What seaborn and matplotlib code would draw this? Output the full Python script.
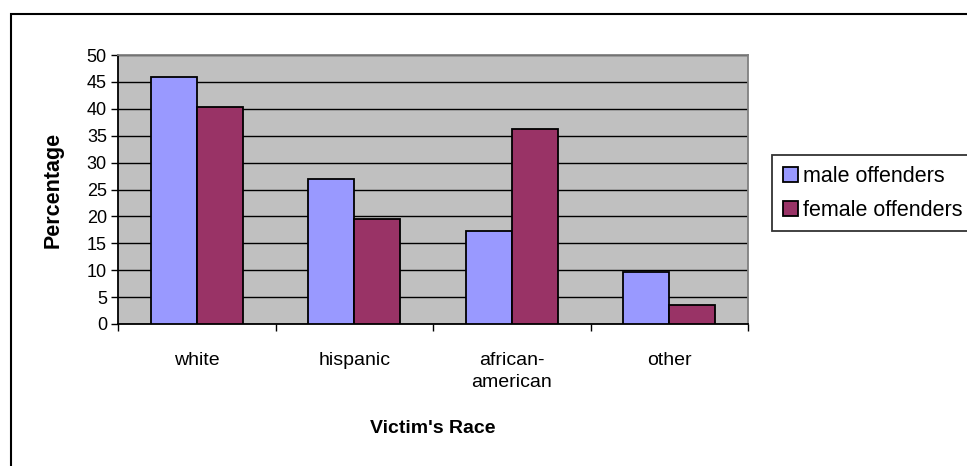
import numpy as np
import pandas as pd
import matplotlib
matplotlib.use('Agg')
import matplotlib.pyplot as plt
from matplotlib.patches import Rectangle
import seaborn as sns

# values
races = ['white', 'hispanic', 'african-\namerican', 'other']
male_offenders = [46.0, 27.0, 17.3, 9.6]
female_offenders = [40.3, 19.6, 36.3, 3.6]
series = ['male offenders', 'female offenders']
colours = ['#9999FF', '#993366']

df = pd.DataFrame({
    'race': races * 2,
    'pct': male_offenders + female_offenders,
    'group': [series[0]] * 4 + [series[1]] * 4,
})

sns.set_style('white')
plt.rcParams['font.family'] = ['Liberation Sans', 'DejaVu Sans']
plt.rcParams['text.color'] = 'black'
plt.rcParams['axes.labelcolor'] = 'black'
plt.rcParams['xtick.color'] = 'black'
plt.rcParams['ytick.color'] = 'black'

W, H = 967, 466
fig = plt.figure(figsize=(W / 100, H / 100), dpi=100)
# plot area in pixels: left 118, right 748, top 55, bottom 324
ax = fig.add_axes([118 / W, 1 - 324 / H, (748 - 118) / W, (324 - 55) / H])
ax.set_facecolor('#C0C0C0')

sns.barplot(data=df, x='race', y='pct', hue='group', palette=colours,
            saturation=1, width=0.585, edgecolor='black', linewidth=1.3,
            ax=ax, zorder=3)

ax.set_ylim(0, 50)
ax.set_xlim(-0.5, 3.5)
ax.set_yticks(range(0, 51, 5))
ax.yaxis.grid(True, color='black', linewidth=1)
ax.set_axisbelow(True)

# category ticks sit between groups, like the original
ax.set_xticks(np.arange(-0.5, 4, 1))
ax.set_xticklabels([])
ax.set_xticks(range(4), minor=True)
ax.set_xticklabels(races, minor=True, fontsize=14, linespacing=1.4)
ax.tick_params(axis='x', which='minor', length=0, pad=20)
ax.tick_params(axis='x', which='major', length=5, width=1, direction='out')
ax.tick_params(axis='y', length=5, width=1, direction='out', labelsize=13, pad=3)
ax.tick_params(bottom=True, left=True)

for s in ['top', 'right']:
    ax.spines[s].set_color('#808080')
    ax.spines[s].set_linewidth(1.3)
for s in ['left', 'bottom']:
    ax.spines[s].set_color('black')
    ax.spines[s].set_linewidth(1.3)

ax.set_xlabel("Victim's Race", fontsize=14, fontweight='bold', labelpad=21)
ax.set_ylabel('Percentage', fontsize=15.5, fontweight='bold', labelpad=17)

handles, labels = ax.get_legend_handles_labels()
leg = ax.legend(handles, labels, loc='upper left',
                bbox_to_anchor=(772 / W, 1 - 155 / H), bbox_transform=fig.transFigure,
                frameon=True, fancybox=False, fontsize=15.5, handlelength=0.7,
                handleheight=0.7, handletextpad=0.25, borderpad=0.5,
                labelspacing=0.6, borderaxespad=0)
leg.get_frame().set_edgecolor('black')
leg.get_frame().set_linewidth(1.3)

# outer chart border (right and bottom edges fall outside the crop)
fig.patches.append(Rectangle((11 / W, -0.1), 1.1, 1 - 14 / H + 0.1,
                             transform=fig.transFigure, fill=False,
                             edgecolor='black', linewidth=1.5))

fig.savefig('out.png', dpi=100)
